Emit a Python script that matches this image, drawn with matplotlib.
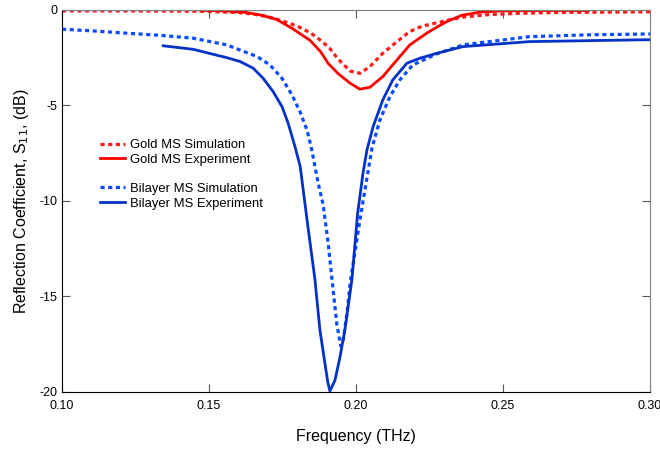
import matplotlib
matplotlib.use("Agg")
import matplotlib.pyplot as plt

plt.rcParams["font.family"] = ["Liberation Sans", "DejaVu Sans"]
plt.rcParams["axes.unicode_minus"] = False

# Gold MS simulation (red dotted)
gold_sim_f = [0.100, 0.120, 0.140, 0.150, 0.160, 0.165, 0.170, 0.175, 0.180, 0.1845,
              0.188, 0.191, 0.194, 0.198, 0.2013, 0.2047, 0.2091, 0.2139, 0.2183, 0.2225,
              0.231, 0.236, 0.245, 0.255, 0.270, 0.285, 0.300]
gold_sim_db = [-0.05, -0.05, -0.06, -0.08, -0.14, -0.22, -0.36, -0.58, -0.85, -1.2,
               -1.6, -2.0, -2.6, -3.2, -3.32, -2.97, -2.27, -1.66, -1.13, -0.85,
               -0.55, -0.38, -0.25, -0.18, -0.13, -0.12, -0.10]

# Gold MS experiment (red solid)
gold_exp_f = [0.147, 0.155, 0.162, 0.168, 0.173, 0.1786, 0.1844, 0.188, 0.1905, 0.194,
              0.198, 0.2013, 0.2047, 0.2091, 0.2139, 0.2183, 0.224, 0.2275, 0.231, 0.236,
              0.242, 0.250, 0.265, 0.279]
gold_exp_db = [-0.02, -0.05, -0.12, -0.28, -0.5, -1.0, -1.6, -2.2, -2.8, -3.35,
               -3.84, -4.15, -4.05, -3.49, -2.62, -1.83, -1.22, -0.9, -0.6, -0.28,
               -0.12, -0.05, -0.03, -0.03]

# Bilayer MS simulation (blue dotted)
bi_sim_f = [0.100, 0.1105, 0.122, 0.1333, 0.1445, 0.156, 0.1605, 0.1663, 0.1707, 0.1748,
            0.1782, 0.1809, 0.1833, 0.1847, 0.1871, 0.1888, 0.1905, 0.1918, 0.1935, 0.1948,
            0.1955, 0.1969, 0.198, 0.2013, 0.2054, 0.2081, 0.2115, 0.2149, 0.2193, 0.2275,
            0.2364, 0.259, 0.280, 0.300]
bi_sim_db = [-1.01, -1.1, -1.22, -1.33, -1.48, -1.83, -2.1, -2.44, -2.88, -3.58,
             -4.45, -5.32, -6.28, -7.16, -9.06, -10.2, -12.2, -14.1, -16.5, -17.6,
             -17.4, -15.9, -14.3, -11.0, -7.24, -5.76, -4.54, -3.66, -2.88, -2.3,
             -1.83, -1.4, -1.3, -1.26]

# Bilayer MS experiment (blue solid)
bi_exp_f = [0.1344, 0.1445, 0.156, 0.1605, 0.165, 0.1684, 0.1718, 0.1748, 0.1769, 0.1793,
            0.181, 0.1835, 0.186, 0.1877, 0.1894, 0.1904, 0.1911, 0.1928, 0.1945, 0.1962,
            0.1986, 0.2005, 0.2023, 0.2037, 0.2058, 0.2091, 0.2125, 0.2173, 0.2217, 0.2275,
            0.2364, 0.259, 0.2955, 0.300]
bi_exp_db = [-1.88, -2.06, -2.5, -2.7, -3.05, -3.58, -4.28, -5.06, -5.93, -7.2,
             -8.2, -11.2, -14.1, -16.75, -18.5, -19.5, -19.95, -19.4, -18.2, -16.75,
             -14.1, -10.7, -8.6, -7.33, -6.11, -4.71, -3.66, -2.79, -2.53, -2.27,
             -1.92, -1.66, -1.57, -1.56]

xticks = [0.10, 0.15, 0.20, 0.25, 0.30]
yticks = [0, -5, -10, -15, -20]

fig = plt.figure(figsize=(6.6, 4.5), dpi=100)
ax = fig.add_axes([0.094, 0.129, 0.891, 0.849])

dot = (0, (1.3, 1.1))
ax.plot(gold_sim_f, gold_sim_db, color="#ff1a1a", lw=2.3, ls=dot, label="Gold MS Simulation")
ax.plot(gold_exp_f, gold_exp_db, color="#ff0000", lw=2.0, label="Gold MS Experiment")
ax.plot([], [], color="none", label=" ")
ax.plot(bi_sim_f, bi_sim_db, color="#0a4cff", lw=2.3, ls=dot, label="Bilayer MS Simulation")
ax.plot(bi_exp_f, bi_exp_db, color="#0432c8", lw=2.0, label="Bilayer MS Experiment")

ax.set_xlim(0.10, 0.30)
ax.set_ylim(-20, 0)
ax.set_xticks(xticks)
ax.set_xticklabels([f"{t:.2f}" for t in xticks])
ax.set_yticks(yticks)
ax.tick_params(direction="in", length=6, width=0.8, labelsize=9,
               top=True, right=True, colors="#555555", labelcolor="black")
ax.tick_params(axis="x", pad=6)
for s in ["top", "right"]:
    ax.spines[s].set_color("#808080")
for s in ["left", "bottom"]:
    ax.spines[s].set_color("black")

ax.set_xlabel("Frequency (THz)", fontsize=11.5, labelpad=12)
ax.set_ylabel("Reflection Coefficient, S$_{11}$, (dB)", fontsize=11.5, labelpad=6)

leg = ax.legend(loc="upper left", bbox_to_anchor=(0.065, 0.662), frameon=False,
                fontsize=9.4, handlelength=1.9, handletextpad=0.35, labelspacing=0.19,
                borderpad=0, borderaxespad=0)

fig.savefig("out.png", dpi=100)
print("Saved out.png")
